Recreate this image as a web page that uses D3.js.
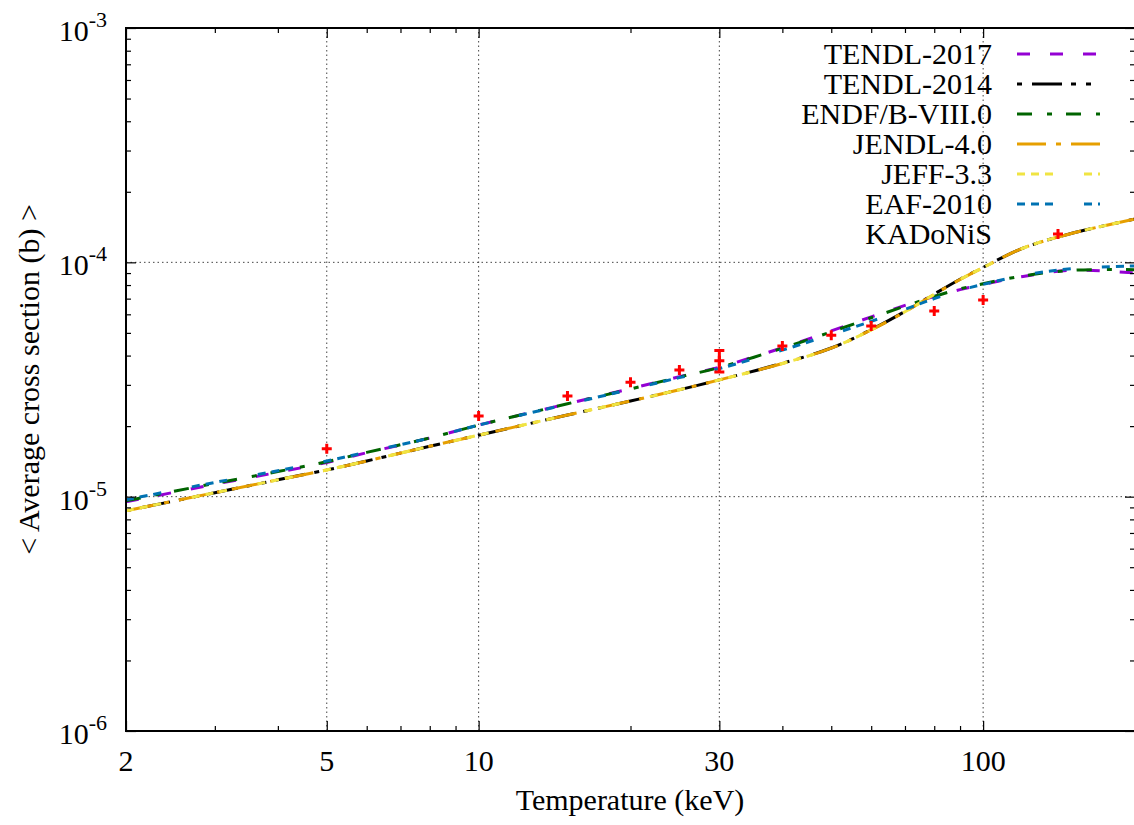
<!DOCTYPE html>
<html>
<head>
<meta charset="utf-8">
<script src="https://cdn.jsdelivr.net/npm/d3@7"></script>
<style>
body{margin:0;background:#fff;}
svg{display:block;font-family:"Liberation Serif","Times New Roman",serif;}
</style>
</head>
<body>
<div class="chart"></div>
<script>

// Temperatures (keV) where the curves are sampled
const temps = [2,3,4,5,6,8,10,15,20,25,30,40,50,60,70,80,90,100,120,150,200];

// Maxwellian averaged cross sections (b)
const tendl2017 = [9.5e-6,1.13e-5,1.27e-5,1.40e-5,1.54e-5,1.78e-5,2.02e-5,2.49e-5,2.89e-5,3.25e-5,3.57e-5,4.32e-5,5.10e-5,5.85e-5,6.55e-5,7.15e-5,7.65e-5,8.05e-5,8.70e-5,9.25e-5,9.0e-5];
const tendl2014 = [8.7e-6,1.04e-5,1.18e-5,1.30e-5,1.42e-5,1.64e-5,1.83e-5,2.23e-5,2.56e-5,2.86e-5,3.15e-5,3.71e-5,4.31e-5,5.16e-5,6.17e-5,7.32e-5,8.47e-5,9.52e-5,1.15e-4,1.33e-4,1.53e-4];
const endf8 = [9.6e-6,1.14e-5,1.28e-5,1.41e-5,1.545e-5,1.78e-5,2.02e-5,2.49e-5,2.88e-5,3.24e-5,3.56e-5,4.30e-5,5.05e-5,5.80e-5,6.50e-5,7.15e-5,7.70e-5,8.10e-5,8.75e-5,9.25e-5,9.3e-5];
const jendl4 = [8.7e-6,1.04e-5,1.18e-5,1.30e-5,1.42e-5,1.64e-5,1.83e-5,2.23e-5,2.56e-5,2.86e-5,3.15e-5,3.70e-5,4.30e-5,5.15e-5,6.15e-5,7.30e-5,8.45e-5,9.50e-5,1.15e-4,1.33e-4,1.53e-4];
const jeff33 = [8.7e-6,1.04e-5,1.18e-5,1.30e-5,1.42e-5,1.64e-5,1.83e-5,2.23e-5,2.56e-5,2.86e-5,3.15e-5,3.70e-5,4.30e-5,5.15e-5,6.15e-5,7.30e-5,8.45e-5,9.50e-5,1.15e-4,1.33e-4,1.53e-4];
const eaf2010 = [9.7e-6,1.15e-5,1.29e-5,1.42e-5,1.55e-5,1.78e-5,2.02e-5,2.48e-5,2.87e-5,3.22e-5,3.52e-5,4.22e-5,4.92e-5,5.60e-5,6.30e-5,7.00e-5,7.60e-5,8.05e-5,8.80e-5,9.40e-5,9.65e-5];

// KADoNiS measured values
const kadT   = [5,10,15,20,25,30,40,50,60,80,100];
const kadVal = [1.60e-5,2.21e-5,2.69e-5,3.08e-5,3.47e-5,3.80e-5,4.39e-5,4.89e-5,5.35e-5,6.2e-5,6.9e-5];
const kadErr = [0,0,0,0,0,0.4e-5,0,0,0,0,0];

// Axis ticks
const xMajor = [2,5,10,30,100];
const xMinor = [3,4,6,7,8,9,20,40,50,60,70,80,90,200];
const yMajor = [1e-6,1e-5,1e-4,1e-3];
const yExp = [-6,-5,-4,-3];
const yMinor = [];
[1e-6,1e-5,1e-4].forEach(d => { for(let k=2;k<10;k++) yMinor.push(d*k); });

const series = [
    {name:"TENDL-2017",   values:tendl2017, color:"#9400d3", dash:"13,20",            off:0},
    {name:"TENDL-2014",   values:tendl2014, color:"#000000", dash:"30,9,5,10,5,10",   off:54},
    {name:"ENDF/B-VIII.0",values:endf8,     color:"#006400", dash:"15,15,5,14",       off:0},
    {name:"JENDL-4.0",    values:jendl4,    color:"#e69f00", dash:"29,10,5,10",       off:0},
    {name:"JEFF-3.3",     values:jeff33,    color:"#f0e442", dash:"8,6,8,6,8,31",     off:0},
    {name:"EAF-2010",     values:eaf2010,   color:"#0072b2", dash:"8,6,8,6,8,31",     off:0}
];

const width = 1134, height = 825;
const margin = {left:126, right:-1, top:28, bottom:94};
const fs = "30px";

const svg = d3.select(".chart")
    .append("svg")
    .attr("width", width)
    .attr("height", height);

const x = d3.scaleLog()
    .domain([2,200])
    .range([margin.left, width - margin.right]);

const y = d3.scaleLog()
    .domain([1e-6,1e-3])
    .range([height - margin.bottom, margin.top]);

const x0 = x.range()[0], x1 = x.range()[1];
const y0 = y.range()[0], y1 = y.range()[1];

svg.append("clipPath")
    .attr("id","clip")
    .append("rect")
    .attr("x", x0).attr("y", y1)
    .attr("width", x1 - x0).attr("height", y0 - y1);

// Grid
svg.append("g")
    .selectAll("line")
    .data(xMajor.filter(d => d > 2))
    .enter()
    .append("line")
    .attr("x1", d => x(d)).attr("x2", d => x(d))
    .attr("y1", y0).attr("y2", y1)
    .attr("stroke","#444")
    .attr("stroke-width",1)
    .attr("stroke-dasharray","1.5,3");

svg.append("g")
    .selectAll("line")
    .data([1e-5,1e-4])
    .enter()
    .append("line")
    .attr("x1", x0).attr("x2", x1)
    .attr("y1", d => y(d)).attr("y2", d => y(d))
    .attr("stroke","#444")
    .attr("stroke-width",1)
    .attr("stroke-dasharray","1.5,3");

// Curves
const line = d3.line()
    .x((d,i) => x(temps[i]))
    .y(d => y(d))
    .curve(d3.curveCatmullRom);

const plot = svg.append("g").attr("clip-path","url(#clip)");

series.forEach(s => {
    plot.append("path")
        .attr("d", line(s.values))
        .attr("fill","none")
        .attr("stroke", s.color)
        .attr("stroke-width",3)
        .attr("stroke-dasharray", s.dash)
        .attr("stroke-dashoffset", s.off);
});

// KADoNiS points
function cross(g, cx, cy){
    g.append("path")
        .attr("d", `M${cx-5},${cy}H${cx+5}M${cx},${cy-5}V${cy+5}`)
        .attr("stroke","#ff0000")
        .attr("stroke-width",3)
        .attr("fill","none");
}

const pts = plot.append("g");
kadT.forEach((t,i) => {
    const cx = x(t), cy = y(kadVal[i]);
    cross(pts, cx, cy);
    if(kadErr[i] > 0){
        const ya = y(kadVal[i] + kadErr[i]), yb = y(kadVal[i] - kadErr[i]);
        pts.append("path")
            .attr("d", `M${cx},${ya}V${yb}M${cx-5},${ya}H${cx+5}M${cx-5},${yb}H${cx+5}`)
            .attr("stroke","#ff0000")
            .attr("stroke-width",3)
            .attr("fill","none");
    }
});

// Axes ticks (inward, mirrored)
function ticks(axis, tr, vals, size){
    const g = svg.append("g")
        .attr("transform", tr)
        .call(axis.tickValues(vals).tickSize(size).tickFormat(""));
    g.select(".domain").remove();
    g.selectAll("line").attr("stroke","#000").attr("stroke-width",1.2);
    return g;
}

ticks(d3.axisBottom(x), `translate(0,${y0})`, xMajor, -10);
ticks(d3.axisBottom(x), `translate(0,${y0})`, xMinor, -5);
ticks(d3.axisTop(x), `translate(0,${y1})`, xMajor, -10);
ticks(d3.axisTop(x), `translate(0,${y1})`, xMinor, -5);
ticks(d3.axisLeft(y), `translate(${x0},0)`, yMajor, -10);
ticks(d3.axisLeft(y), `translate(${x0},0)`, yMinor, -5);
ticks(d3.axisRight(y), `translate(${x1},0)`, yMajor, -10);
ticks(d3.axisRight(y), `translate(${x1},0)`, yMinor, -5);

// Frame
svg.append("rect")
    .attr("x", x0).attr("y", y1)
    .attr("width", x1 - x0).attr("height", y0 - y1)
    .attr("fill","none")
    .attr("stroke","#000")
    .attr("stroke-width",2);

// Tick labels
svg.append("g")
    .selectAll("text")
    .data(xMajor)
    .enter()
    .append("text")
    .attr("x", d => x(d))
    .attr("y", y0 + 40)
    .attr("text-anchor","middle")
    .style("font-size",fs)
    .text(d => d);

const yl = svg.append("g")
    .selectAll("text")
    .data(yMajor)
    .enter()
    .append("text")
    .attr("x", x0 - 19)
    .attr("y", d => y(d) + 13)
    .attr("text-anchor","end")
    .style("font-size",fs);

yl.append("tspan").text("10");
yl.append("tspan")
    .attr("dy",-14)
    .style("font-size","22px")
    .text((d,i) => "-" + (-yExp[i]));

// Axis titles
svg.append("text")
    .attr("x", (x0 + 1134) / 2)
    .attr("y", 810)
    .attr("text-anchor","middle")
    .style("font-size",fs)
    .text("Temperature (keV)");

svg.append("text")
    .attr("transform", `translate(39,${(y0 + y1) / 2}) rotate(-90)`)
    .attr("text-anchor","middle")
    .style("font-size",fs)
    .text("< Average cross section (b) >");

// Legend
const legend = svg.append("g");
const rowY = i => 54 + 30 * i;

series.forEach((s,i) => {
    legend.append("text")
        .attr("x", 992)
        .attr("y", rowY(i) + 10)
        .attr("text-anchor","end")
        .style("font-size",fs)
        .text(s.name);
    legend.append("line")
        .attr("x1", 1017).attr("x2", 1100)
        .attr("y1", rowY(i)).attr("y2", rowY(i))
        .attr("stroke", s.color)
        .attr("stroke-width",3)
        .attr("stroke-dasharray", s.dash)
        .attr("stroke-dashoffset", s.off);
});

legend.append("text")
    .attr("x", 992)
    .attr("y", rowY(6) + 10)
    .attr("text-anchor","end")
    .style("font-size",fs)
    .text("KADoNiS");
cross(legend, 1058, rowY(6));

</script>
</body>
</html>
